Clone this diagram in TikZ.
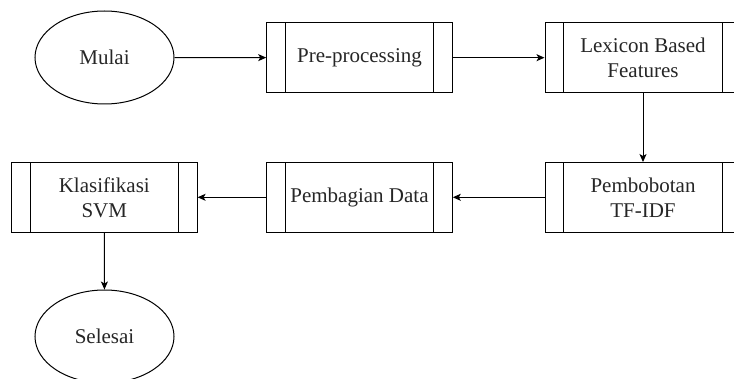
\documentclass[tikz,border=0pt]{standalone}
\usepackage{fontspec}
\setmainfont{Liberation Serif}
\usetikzlibrary{shapes.geometric,arrows.meta}

\tikzset{
  every node/.style={font=\fontsize{21}{25}\selectfont, text=black!85},
  terminal/.style={draw, ellipse, line width=1pt, minimum width=139pt, minimum height=93pt, inner sep=0pt},
  procbox/.style={draw, rectangle, line width=1pt, minimum width=#1, minimum height=69.5pt,
    align=center, inner sep=0pt,
    path picture={
      \draw[line width=1pt] ([xshift=18.8pt]path picture bounding box.north west) -- ([xshift=18.8pt]path picture bounding box.south west);
      \draw[line width=1pt] ([xshift=-18.8pt]path picture bounding box.north east) -- ([xshift=-18.8pt]path picture bounding box.south east);
    }},
  procbox/.default=185.6pt,
  flow/.style={line width=1pt, -{Stealth[length=8pt, width=7pt, inset=2pt]}}
}

\begin{document}
\begin{tikzpicture}[x=1pt, y=-1pt]
  \clip (0,0) rectangle (734,379);

  % first row
  \node[terminal] (mulai) at (104.5,57.5) {Mulai};
  \node[procbox] (pre) at (359.5,57.7) {Pre-processing};
  \node[procbox=196pt] (lex) at (643,57.7) {Lexicon Based\\Features};

  % second row
  \node[procbox=196pt] (tfidf) at (643,197.3) {Pembobotan\\TF-IDF};
  \node[procbox] (bagi) at (359.5,197.3) {Pembagian Data};
  \node[procbox] (svm) at (104.3,197.3) {Klasifikasi\\SVM};

  % end
  \node[terminal] (selesai) at (104.5,336.5) {Selesai};

  % connectors
  \draw[flow] (mulai) -- (pre);
  \draw[flow] (pre) -- (lex);
  \draw[flow] (lex) -- (tfidf);
  \draw[flow] (tfidf) -- (bagi);
  \draw[flow] (bagi) -- (svm);
  \draw[flow] (svm) -- (selesai);
\end{tikzpicture}
\end{document}
